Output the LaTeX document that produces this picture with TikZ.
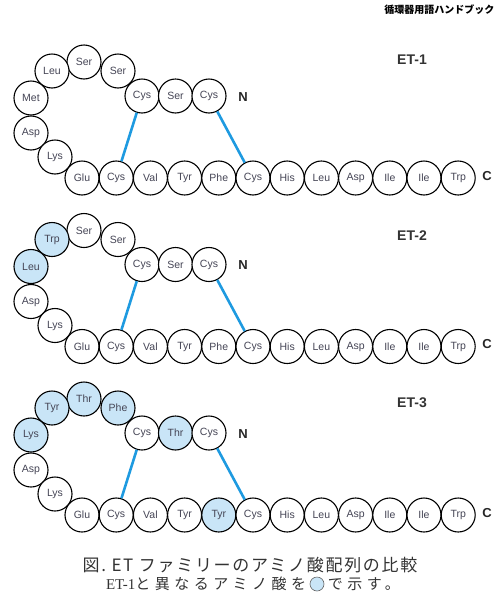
\documentclass[tikz,border=0pt]{standalone}
\usepackage{fontspec}
\setmainfont{Liberation Sans}
\newfontfamily\jpfont{Noto Sans CJK JP}
\newfontfamily\capserif{Liberation Serif}
\usetikzlibrary{positioning}
\definecolor{bondblue}{HTML}{1E9AE0}
\definecolor{diffblue}{HTML}{C9E5F7}
\definecolor{aatext}{HTML}{454555}

\begin{document}
\begin{tikzpicture}[x=1pt, y=-1pt,
    aa/.style={draw, circle, minimum size=34pt, inner sep=0pt, line width=1.1pt, fill=white, text=aatext, font=\fontsize{10.5}{10.5}\selectfont},
    diff/.style={aa, fill=diffblue},
    bond/.style={bondblue, line width=2.6pt},
    etlabel/.style={text=black!80, font=\bfseries\fontsize{14}{14}\selectfont},
    endlabel/.style={text=black!85, font=\bfseries\fontsize{13}{13}\selectfont},
    captext/.style={text=black!80, font=\jpfont\addfontfeatures{LetterSpace=30}\fontsize{15}{15}\selectfont}]
    \useasboundingbox (0,0) rectangle (500,600);

    \node[anchor=east, font=\jpfont\bfseries\fontsize{10}{10}\selectfont] (book) at (498,10) {循環器用語ハンドブック};

    % ET-1
    \begin{scope}
        \node[etlabel] (et1) at (412,60) {ET-1};
        \node[aa] (e1t1) at (142,96) {Cys};
        \node[aa] (e1t2) at (175.5,96) {Ser};
        \node[aa] (e1t3) at (209,96) {Cys};
        \node[aa] (e1l1) at (118,71) {Ser};
        \node[aa] (e1l2) at (84,62) {Ser};
        \node[aa] (e1l3) at (52,71) {Leu};
        \node[aa] (e1l4) at (31,98) {Met};
        \node[aa] (e1l5) at (31,133) {Asp};
        \node[aa] (e1l6) at (55,157) {Lys};
        \foreach \r/\s [count=\i from 0] in {Glu/aa,Cys/aa,Val/aa,Tyr/aa,Phe/aa,Cys/aa,His/aa,Leu/aa,Asp/aa,Ile/aa,Ile/aa,Trp/aa}
            \node[\s] (e1b\i) at (82+34.2*\i,178) {\r};
        \node[endlabel] (e1n) at (243,97) {N};
        \node[endlabel] (e1c) at (487,176) {C};
        \draw[bond] (e1t1) -- (e1b1);
        \draw[bond] (e1t3) -- (e1b5);
    \end{scope}

    % ET-2
    \begin{scope}[shift={(0,168.5)}]
        \node[etlabel] (et2) at (412,67) {ET-2};
        \node[aa] (e2t1) at (142,96) {Cys};
        \node[aa] (e2t2) at (175.5,96) {Ser};
        \node[aa] (e2t3) at (209,96) {Cys};
        \node[aa] (e2l1) at (118,71) {Ser};
        \node[aa] (e2l2) at (84,62) {Ser};
        \node[diff] (e2l3) at (52,71) {Trp};
        \node[diff] (e2l4) at (31,98) {Leu};
        \node[aa] (e2l5) at (31,133) {Asp};
        \node[aa] (e2l6) at (55,157) {Lys};
        \foreach \r/\s [count=\i from 0] in {Glu/aa,Cys/aa,Val/aa,Tyr/aa,Phe/aa,Cys/aa,His/aa,Leu/aa,Asp/aa,Ile/aa,Ile/aa,Trp/aa}
            \node[\s] (e2b\i) at (82+34.2*\i,178) {\r};
        \node[endlabel] (e2n) at (243,97) {N};
        \node[endlabel] (e2c) at (487,176) {C};
        \draw[bond] (e2t1) -- (e2b1);
        \draw[bond] (e2t3) -- (e2b5);
    \end{scope}

    % ET-3
    \begin{scope}[shift={(0,337)}]
        \node[etlabel] (et3) at (412,66) {ET-3};
        \node[aa] (e3t1) at (142,96) {Cys};
        \node[diff] (e3t2) at (175.5,96) {Thr};
        \node[aa] (e3t3) at (209,96) {Cys};
        \node[diff] (e3l1) at (118,71) {Phe};
        \node[diff] (e3l2) at (84,62) {Thr};
        \node[diff] (e3l3) at (52,71) {Tyr};
        \node[diff] (e3l4) at (31,98) {Lys};
        \node[aa] (e3l5) at (31,133) {Asp};
        \node[aa] (e3l6) at (55,157) {Lys};
        \foreach \r/\s [count=\i from 0] in {Glu/aa,Cys/aa,Val/aa,Tyr/aa,Tyr/diff,Cys/aa,His/aa,Leu/aa,Asp/aa,Ile/aa,Ile/aa,Trp/aa}
            \node[\s] (e3b\i) at (82+34.2*\i,178) {\r};
        \node[endlabel] (e3n) at (243,97) {N};
        \node[endlabel] (e3c) at (487,176) {C};
        \draw[bond] (e3t1) -- (e3b1);
        \draw[bond] (e3t3) -- (e3b5);
    \end{scope}

    % caption
    \node[text=black!80, font=\jpfont\addfontfeatures{LetterSpace=10}\fontsize{17}{17}\selectfont] (cap1) at (250,565) {図.\ ET ファミリーのアミノ酸配列の比較};
    \node[circle, draw=black!60, fill=diffblue, minimum size=14pt, inner sep=0pt, line width=0.6pt] (mark) at (317,584) {};
    \node[left=0pt of mark, captext] (cap2a) {{\capserif\addfontfeatures{LetterSpace=0}ET-1}と異なるアミノ酸を};
    \node[right=0pt of mark, captext] (cap2b) {で示す。};
\end{tikzpicture}
\end{document}
